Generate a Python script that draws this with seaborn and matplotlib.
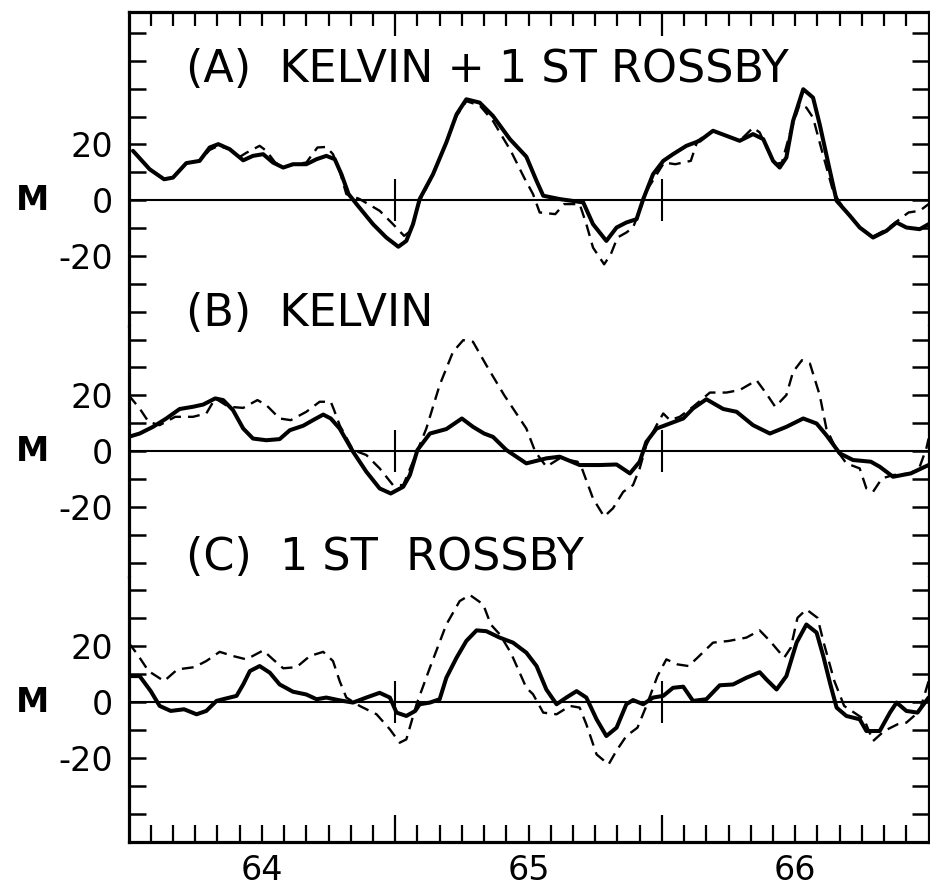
import matplotlib
matplotlib.use("Agg")
import matplotlib.pyplot as plt
import numpy as np
import pandas as pd
import seaborn as sns
from matplotlib.ticker import FixedLocator, FixedFormatter
from matplotlib.transforms import blended_transform_factory

# x values: months since January 1964; y values: M
a_solid_month = [0.2, 0.95, 1.6, 2.0, 2.6, 3.2, 3.65, 4.04, 4.55, 5.16, 5.6, 6.06, 6.5, 6.96, 7.4, 8.0, 8.46, 8.9, 9.28, 9.58,
                 9.9, 10.26, 11.0, 11.6, 12.14, 12.5, 12.8, 13.1, 13.7, 14.3, 14.76, 15.2, 15.8, 16.4, 17.16, 17.9, 18.36,
                 18.66, 19.4, 20.46, 20.9, 21.5, 21.96, 22.4, 22.86, 23.16, 23.6, 24.06, 24.5, 25.1, 25.7, 26.3, 26.9,
                 27.5, 28.1, 28.56, 29.0, 29.3, 29.6, 29.9, 30.36, 30.8, 31.1, 31.56, 31.86, 32.46, 32.9, 33.5, 34.1,
                 34.56, 35.0, 35.6, 36.0]
a_solid_val = [17.7, 11.1, 7.5, 8.1, 13.3, 14.1, 18.9, 20.1, 18.3, 14.3, 15.9, 16.5, 13.5, 11.7, 12.9, 12.9, 14.7, 15.9, 14.7, 9.3,
               2.2, -1.4, -8.6, -13.4, -16.7, -14.6, -8.6, 0.4, 9.3, 20.7, 30.8, 36.2, 35.0, 30.2, 21.9, 15.6, 6.9,
               1.6, 0.4, -0.8, -8.6, -14.6, -9.8, -8.0, -6.8, 0.4, 9.3, 14.1, 16.5, 19.5, 21.3, 24.9, 23.1,
               21.3, 23.7, 21.9, 14.1, 11.7, 15.3, 28.4, 39.8, 36.8, 27.2, 10.5, -0.2, -5.6, -9.8, -13.4, -11.0,
               -8.0, -9.8, -10.4, -8.6]

a_dashed_month = [0.2, 0.95, 1.6, 2.0, 2.6, 3.2, 3.65, 4.04, 4.55, 5.0, 5.3, 5.9, 6.2, 6.6, 7.0, 7.5, 8.0, 8.5, 8.9, 9.2,
                  9.5, 9.8, 10.4, 11.3, 11.9, 12.4, 12.7, 13.1, 13.6, 14.2, 14.76, 15.2, 15.8, 16.4, 17.2, 17.8, 18.2,
                  18.5, 19.2, 19.6, 20.3, 20.6, 20.9, 21.4, 21.7, 22.0, 22.4, 22.7, 23.0, 23.3, 24.1, 24.6, 25.3, 25.6,
                  26.3, 26.9, 27.5, 28.1, 28.4, 28.7, 29.1, 29.4, 29.75, 30.2, 30.5, 30.8, 31.2, 31.7, 32.0, 32.46,
                  32.9, 33.5, 34.1, 34.7, 35.1, 35.6, 36.0]
a_dashed_val = [17.7, 11.1, 7.5, 8.1, 13.3, 14.1, 18.0, 19.5, 18.3, 15.5, 17.0, 19.5, 17.7, 13.5, 11.9, 12.9, 13.5, 18.9, 19.1, 16.5,
                10.5, 2.2, 0.4, -3.8, -8.6, -12.8, -11.0, -0.2, 7.5, 18.9, 30.2, 35.5, 34.0, 28.4, 17.7, 8.1, 2.2,
                -4.4, -5.0, -1.4, -1.4, -8.6, -17.0, -23.0, -19.4, -13.4, -11.6, -9.8, -3.8, 3.3, 13.5, 12.9, 14.1, 21.3,
                24.9, 23.1, 21.3, 26.0, 24.3, 18.9, 12.9, 13.5, 23.7, 34.4, 33.2, 29.6, 17.7, 3.3, -0.8, -5.6,
                -9.8, -13.0, -10.5, -6.8, -4.4, -3.8, -1.4]

b_solid_month = [0, 0.5, 1.1, 1.7, 2.3, 2.9, 3.36, 3.9, 4.26, 4.7, 5.16, 5.6, 6.2, 6.8, 7.26, 7.86, 8.3, 8.76, 9.1, 9.5,
                 10.1, 10.7, 11.3, 11.8, 12.36, 12.66, 13.0, 13.56, 14.3, 15.0, 15.5, 16.0, 16.4, 17.0, 17.9, 18.8, 19.4,
                 20.3, 21.2, 21.96, 22.56, 23.0, 23.3, 23.76, 24.36, 24.96, 25.4, 26.0, 26.76, 27.36, 28.1, 28.86, 29.6,
                 30.36, 30.96, 31.4, 32.0, 32.6, 33.4, 33.8, 34.4, 35.2, 36.0]
b_solid_val = [5.1, 6.3, 8.7, 11.7, 15.1, 15.9, 16.7, 18.9, 18.3, 14.7, 8.1, 4.5, 3.9, 4.3, 7.5, 9.1, 11.1, 13.1, 11.7, 8.1,
               -0.2, -7.4, -13.4, -15.2, -12.8, -8.6, 0.4, 6.3, 7.9, 11.7, 8.7, 6.3, 5.1, 0.4, -4.4, -2.6, -2.0,
               -5.0, -5.0, -4.8, -8.0, -3.8, 3.3, 8.1, 9.9, 11.7, 15.3, 18.6, 15.1, 14.1, 9.3, 6.3, 8.7,
               11.7, 9.9, 5.7, -0.8, -3.2, -3.8, -5.6, -9.2, -8.0, -5.0]

b_dashed_month = [0.0, 0.5, 0.9, 1.4, 2.1, 2.9, 3.5, 3.9, 4.5, 5.16, 5.8, 6.2, 6.8, 7.3, 8.0, 8.6, 9.1, 9.25, 9.5, 10.1,
                  10.7, 11.3, 11.9, 12.36, 12.8, 13.4, 14.0, 14.6, 15.06, 15.5, 16.1, 16.9, 17.6, 17.9, 18.3, 18.8, 19.4,
                  20.2, 20.4, 20.9, 21.4, 21.8, 22.26, 22.7, 23.0, 23.3, 23.76, 24.06, 24.36, 24.8, 25.4, 26.16, 26.9,
                  27.5, 28.26, 28.7, 29.1, 29.6, 29.9, 30.3, 30.66, 31.1, 31.4, 31.86, 32.3, 32.9, 33.2, 33.5, 33.9,
                  34.4, 35.2, 35.6, 35.9, 36.0]
b_dashed_val = [20.1, 15.3, 10.5, 9.3, 12.3, 12.3, 13.5, 18.9, 15.9, 15.5, 18.3, 16.5, 11.7, 11.1, 14.1, 17.7, 17.7, 14.7, 9.3, 0.4,
                -1.4, -6.2, -12.2, -12.2, -3.8, 8.1, 23.7, 35.6, 39.8, 39.2, 30.8, 20.1, 11.7, 8.1, -0.2, -5.6, -2.6,
                -3.8, -6.2, -17.0, -23.5, -20.5, -14.6, -12.2, -6.2, 2.2, 9.3, 13.5, 11.1, 12.3, 15.9, 21.0, 21.0,
                21.9, 25.4, 20.6, 15.9, 20.1, 28.4, 32.6, 31.4, 20.1, 8.1, 0.4, -4.4, -6.2, -13.4, -14.6, -9.8,
                -8.6, -8.0, -5.6, 1.0, 4.5]

c_solid_month = [0, 0.5, 1.0, 1.4, 1.9, 2.5, 3.06, 3.5, 3.96, 4.4, 4.86, 5.16, 5.46, 5.9, 6.36, 6.8, 7.4, 8.0, 8.46, 8.9,
                 9.5, 10.1, 10.7, 11.3, 11.76, 12.06, 12.5, 12.9, 13.1, 13.56, 14.0, 14.3, 14.76, 15.2, 15.66, 16.1, 16.7,
                 17.3, 17.9, 18.36, 18.8, 19.26, 19.7, 20.16, 20.6, 21.06, 21.5, 21.96, 22.4, 22.7, 23.16, 23.6, 24.06,
                 24.5, 24.96, 25.4, 26.0, 26.6, 27.2, 27.8, 28.4, 28.7, 29.16, 29.6, 30.06, 30.5, 30.96, 31.26, 31.56,
                 31.86, 32.3, 32.9, 33.2, 33.8, 34.26, 34.56, 35.0, 35.5, 36.0]
c_solid_val = [9.3, 9.3, 3.9, -1.4, -3.2, -2.6, -4.4, -3.2, 0.4, 1.3, 2.2, 6.3, 11.1, 12.9, 10.5, 6.3, 3.7, 2.7, 1.0, 1.6,
               0.6, -0.2, 1.6, 3.3, 1.6, -3.8, -5.0, -3.2, -0.8, -0.2, 1.0, 8.7, 15.9, 21.9, 25.7, 25.4, 23.1,
               21.3, 17.7, 12.9, 4.5, -0.8, 1.6, 3.9, 1.6, -6.2, -12.2, -9.2, -0.8, 0.7, -0.8, 1.6, 2.2,
               5.1, 5.5, 0.4, 1.0, 6.0, 6.3, 8.7, 10.7, 8.1, 4.5, 9.3, 21.3, 27.8, 24.9, 16.5, 6.9,
               -2.0, -5.0, -6.2, -10.4, -10.4, -3.8, -0.2, -3.2, -3.8, 1.6]

c_dashed_month = [0, 0.4, 0.9, 1.6, 2.2, 2.96, 3.5, 4.1, 4.7, 5.3, 6.06, 6.5, 6.96, 7.56, 8.16, 8.76, 9.2, 9.5, 9.8, 10.4,
                  11.16, 11.76, 12.2, 12.5, 12.96, 13.56, 14.3, 14.9, 15.36, 15.96, 16.3, 16.7, 17.2, 17.9, 18.2, 18.66,
                  19.26, 19.86, 20.3, 20.6, 21.06, 21.6, 21.96, 22.4, 22.9, 23.3, 23.8, 24.2, 24.7, 25.2, 25.6, 26.3,
                  27.0, 27.8, 28.4, 28.86, 29.5, 29.8, 30.1, 30.5, 31.0, 31.3, 31.76, 32.2, 33.1, 33.5, 34.0, 34.6,
                  35.0, 35.6, 36.0]
c_dashed_val = [21.3, 17.1, 11.1, 7.5, 11.7, 12.5, 14.7, 18.0, 16.5, 15.3, 18.5, 15.3, 12.1, 12.5, 16.5, 18.0, 14.7, 7.5, 1.6, -1.4,
                -4.4, -9.8, -14.6, -13.4, -0.8, 12.3, 27.8, 36.2, 38.4, 35.0, 27.8, 24.3, 17.7, 5.1, 2.8, -3.8,
                -4.4, -1.4, -2.0, -8.0, -18.8, -22.4, -17.4, -12.2, -9.2, -1.4, 9.3, 15.3, 13.5, 12.9, 15.9, 21.3,
                21.9, 23.1, 25.7, 21.9, 15.9, 19.5, 30.2, 33.2, 30.2, 20.7, 7.5, -1.4, -6.2, -14.0, -10.4, -8.0,
                -7.4, -3.2, 7.5]

panel_titles = ["(A)  KELVIN + 1 ST ROSSBY", "(B)  KELVIN", "(C)  1 ST  ROSSBY"]
year_labels = ["64", "65", "66"]
year_label_months = [6, 18, 30]
year_boundaries = [12, 24]
y_tick_values = [-20, 0, 20]
y_label = "M"

sns.set_style("white")
plt.rcParams["font.family"] = ["DejaVu Sans"]
plt.rcParams["text.color"] = "black"
plt.rcParams["xtick.color"] = "black"
plt.rcParams["ytick.color"] = "black"
plt.rcParams["xtick.labelcolor"] = "black"
plt.rcParams["ytick.labelcolor"] = "black"

fig = plt.figure(figsize=(9.3, 8.89), dpi=100)
gs = fig.add_gridspec(3, 1, height_ratios=[112.5, 90, 95.2], hspace=0)
fig.subplots_adjust(left=0.1382, right=0.9985, top=0.9865, bottom=0.0529)
axes = [fig.add_subplot(gs[i]) for i in range(3)]
ylims = [(-45, 67.5), (-45, 45), (-50.2, 45)]
yticks = [list(range(-40, 61, 10)), list(range(-40, 41, 10)), list(range(-40, 41, 10))]
title_y = [42.3, 44.8, 47.3]

series = [
    (a_solid_month, a_solid_val, a_dashed_month, a_dashed_val),
    (b_solid_month, b_solid_val, b_dashed_month, b_dashed_val),
    (c_solid_month, c_solid_val, c_dashed_month, c_dashed_val),
]

month_minor = [m for m in range(1, 36) if m not in year_boundaries]

for i, ax in enumerate(axes):
    sm, sv, dm, dv = series[i]
    ax.axhline(0, color="black", lw=1.5, zorder=1)
    ax.vlines(year_boundaries, -7.5, 7.5, color="black", lw=1.5, zorder=1)
    df_d = pd.DataFrame({"month": dm, "M": dv})
    sns.lineplot(data=df_d, x="month", y="M", ax=ax, color="black", lw=1.7, sort=False, zorder=2)
    ax.lines[-1].set_dashes((5, 3))
    df_s = pd.DataFrame({"month": sm, "M": sv})
    sns.lineplot(data=df_s, x="month", y="M", ax=ax, color="black", lw=2.9, sort=False, zorder=3,
                 solid_capstyle="round", solid_joinstyle="round")
    ax.set_xlim(0, 36)
    ax.set_ylim(*ylims[i])
    ax.set_xlabel("")
    ax.set_ylabel("")
    ax.set_yticks(yticks[i])
    ax.set_yticklabels([str(t) if t in y_tick_values else "" for t in yticks[i]])
    ax.tick_params(axis="y", which="major", direction="in", left=True, right=True,
                   length=12, width=1.8, labelsize=24, pad=11, colors="black")
    ax.xaxis.set_major_locator(FixedLocator(year_boundaries))
    ax.xaxis.set_minor_locator(FixedLocator(month_minor))
    ax.xaxis.set_major_formatter(FixedFormatter(["", ""]))
    ax.xaxis.set_minor_formatter(FixedFormatter(
        [year_labels[year_label_months.index(m)] if m in year_label_months else "" for m in month_minor]))
    for side in ["left", "right", "top", "bottom"]:
        ax.spines[side].set_linewidth(2.3)
        ax.spines[side].set_color("black")
    if i == 0:
        ax.spines["bottom"].set_visible(False)
        ax.tick_params(axis="x", which="minor", direction="in", top=True, bottom=False,
                       labelbottom=False, length=10, width=1.6)
        ax.tick_params(axis="x", which="major", direction="in", top=True, bottom=False,
                       labelbottom=False, length=17, width=1.6)
    elif i == 1:
        ax.spines["bottom"].set_visible(False)
        ax.spines["top"].set_visible(False)
        ax.tick_params(axis="x", which="both", top=False, bottom=False, labelbottom=False)
    else:
        ax.spines["top"].set_visible(False)
        ax.tick_params(axis="x", which="minor", direction="in", top=False, bottom=True,
                       labelbottom=True, length=12, width=1.6, labelsize=24, pad=9)
        ax.tick_params(axis="x", which="major", direction="in", top=False, bottom=True,
                       labelbottom=False, length=19.5, width=1.6)
    trans = blended_transform_factory(ax.transAxes, ax.transData)
    ax.text(-0.12, 0, y_label, transform=trans, ha="center", va="center",
            fontsize=24, fontweight="bold")
    ax.text(2.6, title_y[i], panel_titles[i], ha="left", va="baseline", fontsize=32)
    ax.grid(False)

fig.savefig("out.png", dpi=100)
